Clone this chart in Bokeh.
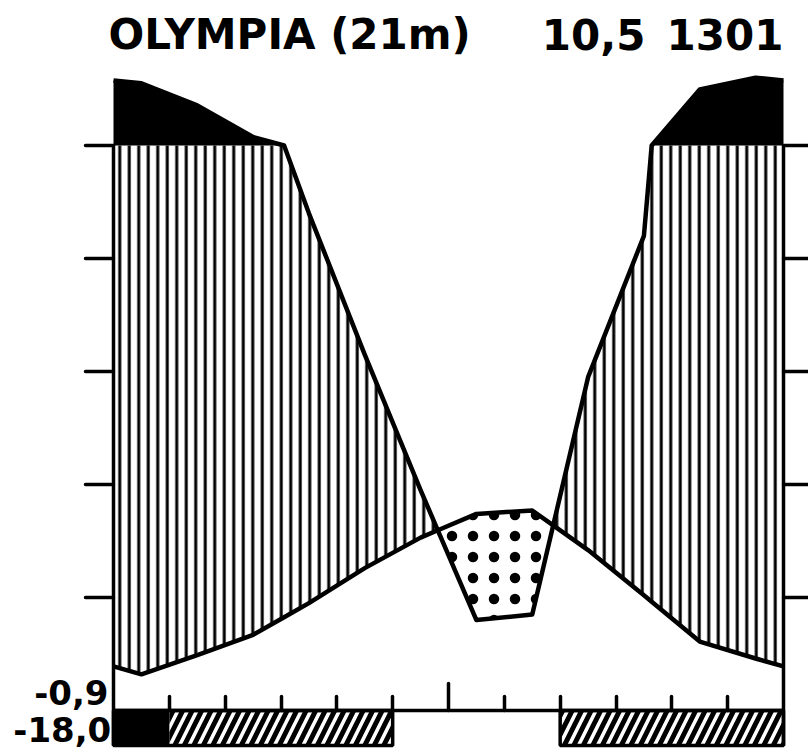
import numpy as np
from bokeh.plotting import figure
from bokeh.models import Range1d, LinearAxis, FixedTicker
from bokeh.core.properties import value
from bokeh.embed import file_html
from bokeh.resources import INLINE

# ---------------- data ----------------
months = ["Jan", "Feb", "Mar", "Apr", "May", "Jun",
          "Jul", "Aug", "Sep", "Oct", "Nov", "Dec"]
temp = [3.2, 4.9, 6.7, 9.5, 12.6, 15.3, 17.4, 17.7, 14.2, 10.2, 6.1, 4.6]      # deg C
precip = [210, 171, 115, 88, 63, 39, 16, 17, 59, 84, 199, 220]                  # mm
frost_certain = ["Jan"]                                                          # mean daily min < 0
frost_possible = ["Feb", "Mar", "Apr", "May", "Sep", "Oct", "Nov", "Dec"]        # abs. min < 0
station = "OLYMPIA (21m)"
annual_temp = "10,5"
annual_precip = "1301"
mean_min_coldest = "-0,9"
abs_min = "-18,0"
temp_ticks = [10, 20, 30, 40, 50]
month_ticks = [1, 2, 3, 4, 5, 7, 8, 9, 10, 11]
midyear_tick = [6]

# ---------------- Walter-Lieth construction ----------------
def pdisp(p):
    p = np.asarray(p, dtype=float)
    return np.where(p <= 100, p / 2.0, 50 + (p - 100) / 20.0)

edge_t = (temp[0] + temp[-1]) / 2.0
edge_p = (precip[0] + precip[-1]) / 2.0
xs = [0.0] + [i + 0.5 for i in range(12)] + [12.0]
ts = [edge_t] + temp + [edge_t]
ps = [edge_p] + precip + [edge_p]

X = [xs[0]]
for i in range(len(xs) - 1):
    x0, x1 = xs[i], xs[i + 1]
    t0, t1 = ts[i], ts[i + 1]
    p0, p1 = ps[i], ps[i + 1]
    fr = [0.0]
    if (p0 - 100) * (p1 - 100) < 0:
        fr.append((100 - p0) / (p1 - p0))
    fr.append(1.0)
    for a, b in zip(fr[:-1], fr[1:]):
        da = float(pdisp(p0 + a * (p1 - p0))) - (t0 + a * (t1 - t0))
        db = float(pdisp(p0 + b * (p1 - p0))) - (t0 + b * (t1 - t0))
        if da * db < 0:
            c = a + (b - a) * da / (da - db)
            X.append(x0 + c * (x1 - x0))
        X.append(x0 + b * (x1 - x0))
X = np.array(X)
T = np.interp(X, xs, ts)
PD = pdisp(np.interp(X, xs, ps))

# ---------------- figure (frame = whole canvas) ----------------
W, H = 808, 755
left_px, right_px = 113, 783          # pixel position of month 0 and month 12
zero_px, px_per_unit = 710, 11.3      # pixel row of 0 degC, pixels per degC
px_per_month = (right_px - left_px) / 12.0
x_start = -left_px / px_per_month
x_end = 12 + (W - right_px) / px_per_month
y_top = zero_px / px_per_unit
y_bot = y_top - H / px_per_unit
bar_bottom = -3.1

p = figure(width=W, height=H, x_range=Range1d(x_start, x_end), y_range=Range1d(y_bot, y_top),
           output_backend="svg", toolbar_location=None,
           x_axis_type=None, y_axis_type=None,
           min_border_left=0, min_border_right=0, min_border_top=0, min_border_bottom=0)
p.outline_line_color = None
p.background_fill_color = "white"
p.border_fill_color = "white"

# perhumid part (> 100 mm) black
p.varea(x=X, y1=np.full_like(X, 50.0), y2=np.maximum(PD, 50.0), fill_color="black")
# humid part: vertical lines
p.varea(x=X, y1=T, y2=np.maximum(T, np.minimum(PD, 50.0)), fill_alpha=0,
        hatch_pattern="vertical_line", hatch_color="black", hatch_scale=9.5, hatch_weight=3)
# arid part: dots
p.varea(x=X, y1=PD, y2=np.maximum(PD, T), fill_alpha=0,
        hatch_pattern="dot", hatch_color="black", hatch_scale=21, hatch_weight=4)

# curves
p.line(X, T, line_color="black", line_width=4.5, line_join="round")
p.line(X, PD, line_color="black", line_width=4.5, line_join="round")

# frost bars
def runs(names):
    idx = sorted(months.index(m) for m in names)
    out = []
    start = prev = None
    for i in idx:
        if start is None:
            start = prev = i
        elif i == prev + 1:
            prev = i
        else:
            out.append((start, prev + 1))
            start = prev = i
    if start is not None:
        out.append((start, prev + 1))
    return out

rc = runs(frost_certain)
rp = runs(frost_possible)
ra = runs(frost_certain + frost_possible)
p.quad(left=[a for a, b in rp], right=[b for a, b in rp], top=0, bottom=bar_bottom,
       fill_alpha=0, line_color=None, hatch_pattern="right_diagonal_line",
       hatch_color="black", hatch_scale=19, hatch_weight=5)
p.quad(left=[a for a, b in rc], right=[b for a, b in rc], top=0, bottom=bar_bottom,
       fill_color="black", line_color=None)
p.quad(left=[a for a, b in ra], right=[b for a, b in ra], top=0, bottom=bar_bottom,
       fill_alpha=0, line_color="black", line_width=3.5)

# axes (fixed in data space, no labels)
def style(ax, ticks):
    ax.major_label_overrides = {t: "" for t in ticks}
    ax.major_label_standoff = 0
    ax.axis_line_width = 3.5
    ax.major_tick_line_width = 3.5
    ax.minor_tick_line_width = 3.5
    ax.axis_line_color = "black"
    ax.major_tick_line_color = "black"
    ax.major_tick_line_cap = "round"
    ax.minor_tick_line_cap = "round"

ax_l = LinearAxis(fixed_location=0, ticker=FixedTicker(ticks=temp_ticks),
                  bounds=(bar_bottom, 50), major_tick_in=0, major_tick_out=28)
style(ax_l, temp_ticks)
ax_l.minor_tick_line_color = None
p.add_layout(ax_l, "left")

ax_r = LinearAxis(fixed_location=12, ticker=FixedTicker(ticks=temp_ticks),
                  bounds=(bar_bottom, 50), major_tick_in=0, major_tick_out=25)
style(ax_r, temp_ticks)
ax_r.minor_tick_line_color = None
p.add_layout(ax_r, "right")

ax_b = LinearAxis(fixed_location=0, ticker=FixedTicker(ticks=midyear_tick, minor_ticks=month_ticks),
                  bounds=(0, 12), major_tick_in=27, major_tick_out=0,
                  minor_tick_in=14, minor_tick_out=0)
style(ax_b, midyear_tick)
ax_b.minor_tick_line_color = "black"
p.add_layout(ax_b, "below")

# texts
font = value("DejaVu Sans")
title_y = 59.8
p.text(x=[-0.09], y=[title_y], text=[station], text_font=font, text_font_style="bold",
       text_font_size="42px", text_align="left", text_baseline="alphabetic", text_color="black")
p.text(x=[8.6], y=[title_y], text=[annual_temp], text_font=font, text_font_style="bold",
       text_font_size="42px", text_align="center", text_baseline="alphabetic", text_color="black")
p.text(x=[12.0], y=[title_y], text=[annual_precip], text_font=font, text_font_style="bold",
       text_font_size="42px", text_align="right", text_baseline="alphabetic", text_color="black")
p.text(x=[-0.09], y=[1.55], text=[mean_min_coldest], text_font=font, text_font_style="bold",
       text_font_size="34px", text_align="right", text_baseline="alphabetic", text_color="black")
p.text(x=[-0.04], y=[-1.7], text=[abs_min], text_font=font, text_font_style="bold",
       text_font_size="34px", text_align="right", text_baseline="alphabetic", text_color="black")

open("out.html", "w").write(file_html(p, INLINE))
